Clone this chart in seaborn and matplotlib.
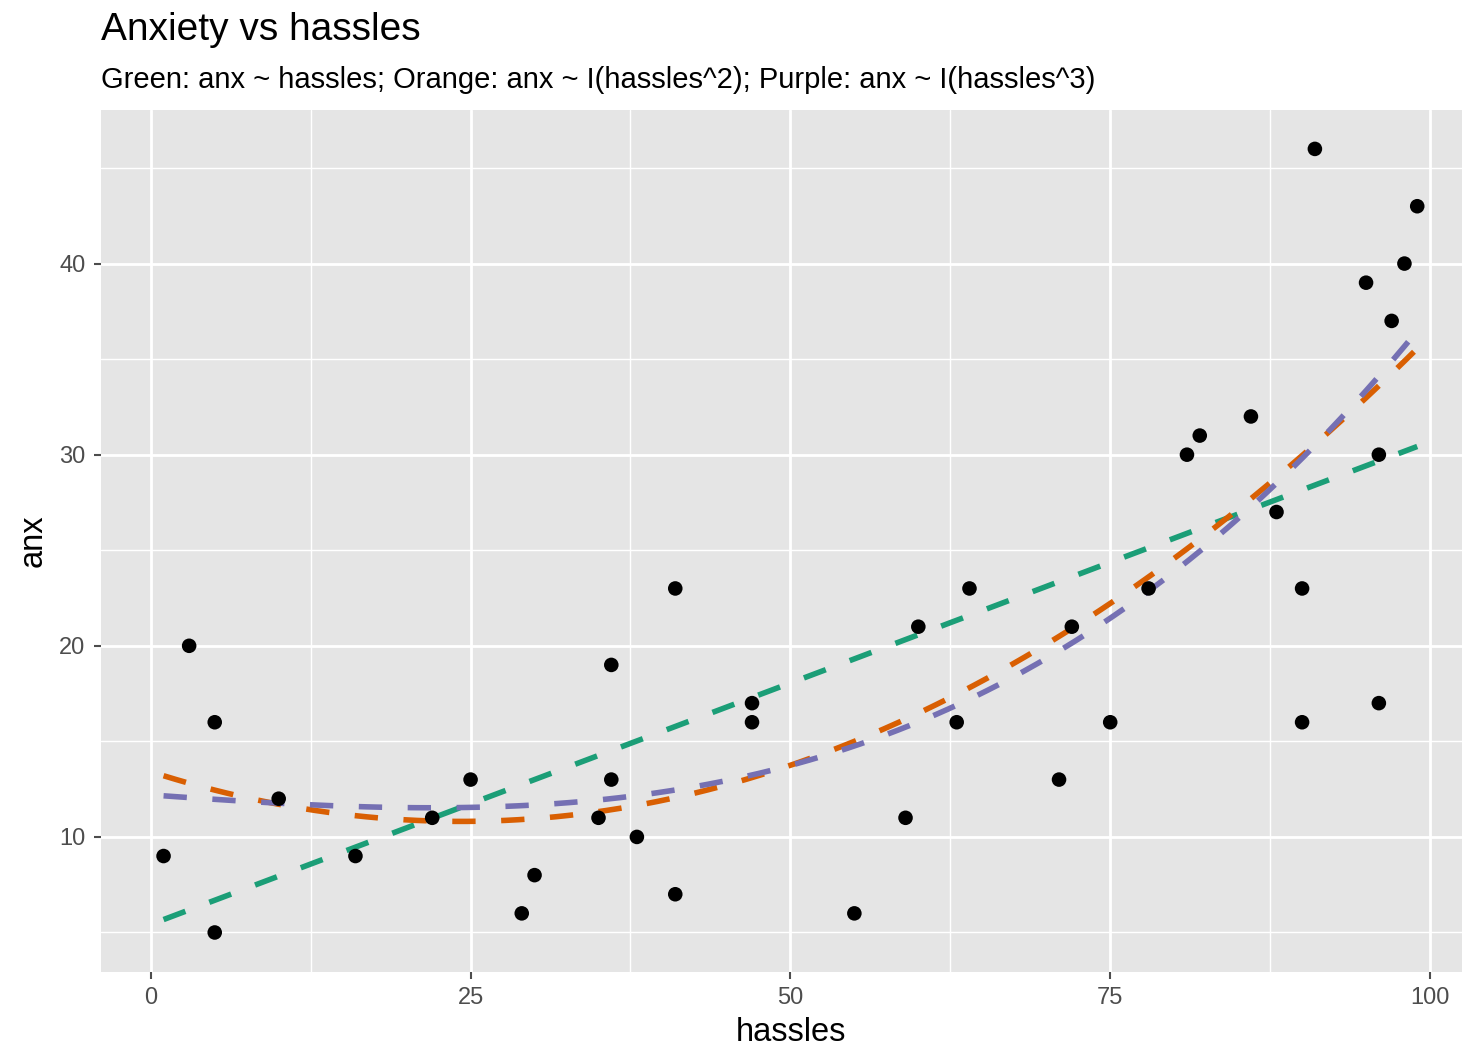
import numpy as np
import pandas as pd
import matplotlib
matplotlib.use("Agg")
import matplotlib.pyplot as plt
from matplotlib.ticker import MultipleLocator
import seaborn as sns

# data
hassles = [1, 3, 5, 5, 10, 16, 22, 25, 29, 30, 35, 36, 36, 38, 41, 41, 47, 47,
           55, 59, 60, 63, 64, 71, 72, 75, 78, 81, 82, 86, 88, 90, 90, 91, 95,
           96, 96, 97, 98, 99]
anx = [9, 20, 16, 5, 12, 9, 11, 13, 6, 8, 11, 19, 13, 10, 23, 7, 17, 16,
       6, 11, 21, 16, 23, 13, 21, 16, 23, 30, 31, 32, 27, 23, 16, 46, 39,
       30, 17, 37, 40, 43]
fit_orders = [1, 2, 3]
fit_colors = ["#1B9E77", "#D95F02", "#7570B3"]

df = pd.DataFrame({"hassles": hassles, "anx": anx})

sns.set_theme(style="darkgrid", rc={
    "axes.facecolor": "#E5E5E5",
    "grid.color": "white",
    "axes.edgecolor": "none",
})
plt.rcParams["font.family"] = ["Liberation Sans", "DejaVu Sans"]

fig = plt.figure(figsize=(14.62, 10.55), dpi=100)
ax = fig.add_axes([0.069, 0.079, 0.931, 0.817])

for order, col in zip(fit_orders, fit_colors):
    sns.regplot(data=df, x="hassles", y="anx", order=order, ci=None,
                scatter=False, ax=ax,
                line_kws=dict(color=col, lw=4.0, dashes=(4.2, 4.6)))

sns.scatterplot(data=df, x="hassles", y="anx", color="black", s=110,
                edgecolor="none", ax=ax, zorder=5)

ax.set_xlim(-3.9, 102.5)
ax.set_ylim(2.95, 48.05)
ax.xaxis.set_major_locator(MultipleLocator(25))
ax.xaxis.set_minor_locator(MultipleLocator(12.5))
ax.yaxis.set_major_locator(MultipleLocator(10))
ax.yaxis.set_minor_locator(MultipleLocator(5))
ax.grid(which="major", color="white", lw=2.0)
ax.grid(which="minor", color="white", lw=1.0)
ax.set_axisbelow(True)
ax.tick_params(axis="both", which="major", labelsize=17, colors="#4D4D4D",
               length=5, width=1.5, direction="out", bottom=True, left=True,
               pad=6)
ax.tick_params(which="minor", length=0)
for lab in ax.get_xticklabels() + ax.get_yticklabels():
    lab.set_color("#4D4D4D")

ax.set_xlabel("hassles", fontsize=23.5, labelpad=6, color="black")
ax.set_ylabel("anx", fontsize=23.5, labelpad=8, color="black")
ax.xaxis.label.set_x(0.507)

fig.text(0.069, 0.962, "Anxiety vs hassles", fontsize=28, ha="left",
         va="baseline", color="black")
fig.text(0.069, 0.917,
         "Green: anx ~ hassles; Orange: anx ~ I(hassles^2); Purple: anx ~ I(hassles^3)",
         fontsize=21, ha="left", va="baseline", color="black")

fig.savefig("out.png", dpi=100)
